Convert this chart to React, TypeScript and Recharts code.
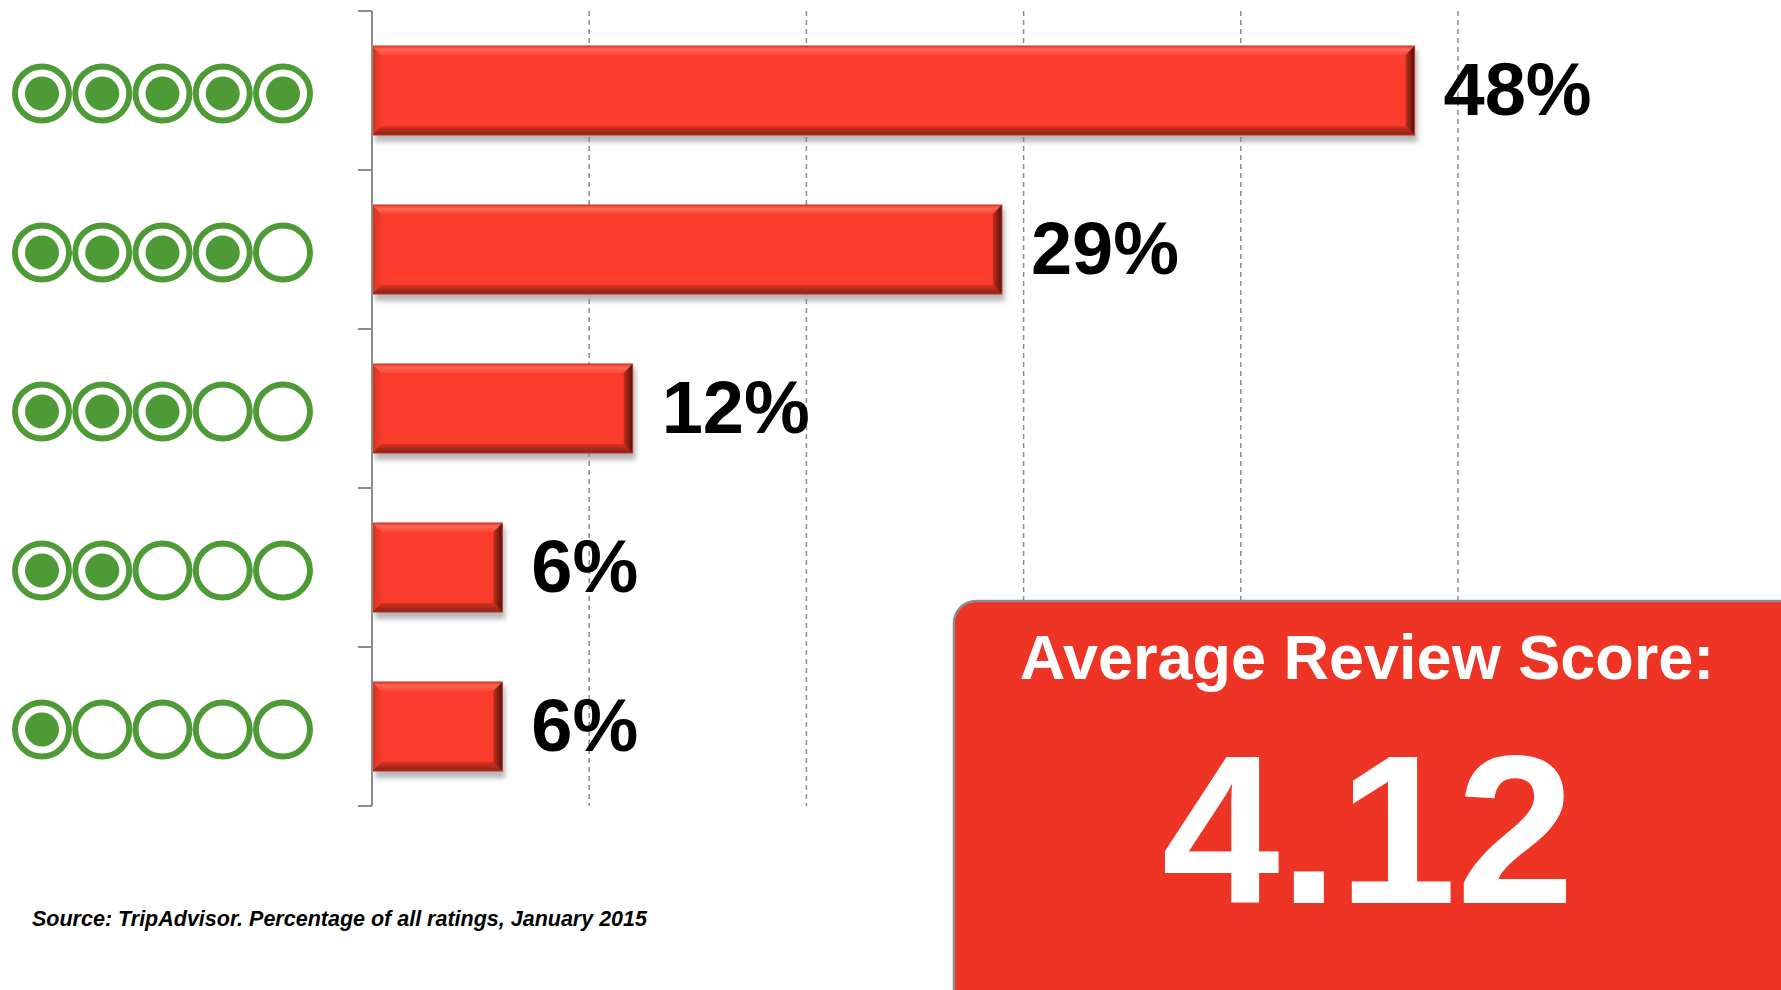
import React from "react";
import { BarChart, Bar, XAxis, YAxis, CartesianGrid, LabelList } from "recharts";

// ratings from 5 bubbles down to 1, share of all reviews in %
const ratings = [5, 4, 3, 2, 1];
const shares = [48, 29, 12, 6, 6];
const xTicks = [0, 10, 20, 30, 40, 50];
const scoreTitle = "Average Review Score:";
const averageScore = "4.12";
const sourceNote = "Source: TripAdvisor. Percentage of all ratings, January 2015";

const data = ratings.map((r, i) => ({ rating: r, share: shares[i] }));

const W = 1781;
const H = 990;
const TOP = 11;
const BOTTOM = 806;
const AXIS_X = 372;
const BAND = (BOTTOM - TOP) / ratings.length;
const GREEN = "#4e9a36";
const AXIS_GREY = "#8c8c8c";
const FONT = '"Liberation Sans", Arial, Helvetica, sans-serif';

function RatingTick(props: any) {
  const { y, payload } = props;
  const filled = Number(payload.value);
  const isLast = payload.value === ratings[ratings.length - 1];
  return (
    <g>
      <line x1={AXIS_X - 14} x2={AXIS_X} y1={y - BAND / 2} y2={y - BAND / 2} stroke={AXIS_GREY} strokeWidth={2} />
      {isLast && (
        <line x1={AXIS_X - 14} x2={AXIS_X} y1={y + BAND / 2} y2={y + BAND / 2} stroke={AXIS_GREY} strokeWidth={2} />
      )}
      {[0, 1, 2, 3, 4].map((k) => (
        <g key={k}>
          <circle cx={42 + k * 60.25} cy={y + 3} r={27} fill="#fff" stroke={GREEN} strokeWidth={6} />
          {k < filled && <circle cx={42 + k * 60.25} cy={y + 3} r={17} fill={GREEN} />}
        </g>
      ))}
    </g>
  );
}

// red bar with a bevelled frame and a soft grey drop shadow
function BevelBar(props: any) {
  const { x, y, width: w, height: h } = props;
  const b = 9;
  const pts = (arr: number[][]) => arr.map((p) => p.join(",")).join(" ");
  return (
    <g>
      <rect x={x + 3} y={y + 4} width={w} height={h + 3} fill="#8a8a8a" opacity={0.6} filter="url(#barShadow)" />
      <rect x={x} y={y} width={w} height={h} fill="#fb3b2b" />
      <polygon points={pts([[x, y], [x + w, y], [x + w - b, y + b], [x + b, y + b]])} fill="url(#bevTop)" />
      <polygon points={pts([[x, y + h], [x + w, y + h], [x + w - b, y + h - b], [x + b, y + h - b]])} fill="url(#bevBottom)" />
      <polygon points={pts([[x, y], [x + b, y + b], [x + b, y + h - b], [x, y + h]])} fill="url(#bevLeft)" />
      <polygon points={pts([[x + w, y], [x + w - b, y + b], [x + w - b, y + h - b], [x + w, y + h]])} fill="url(#bevRight)" />
      <rect x={x} y={y} width={w} height={h} fill="none" stroke="#c9301f" strokeWidth={1} />
    </g>
  );
}

function ShareLabel(props: any) {
  const { x, y, width, height, value } = props;
  return (
    <text
      x={x + width + 29}
      y={y + height / 2 + 24}
      fill="#000"
      fontFamily={FONT}
      fontWeight="bold"
      fontSize={74}
    >
      {value}%
    </text>
  );
}

export default function App() {
  return (
    <div style={{ position: "absolute", left: 0, top: 0, width: W, height: H, background: "#fff" }}>
      <BarChart
        width={W}
        height={H}
        data={data}
        layout="vertical"
        margin={{ top: TOP, right: W - 1458, bottom: H - BOTTOM, left: 0 }}
      >
        <defs>
          <filter id="barShadow" x="-5%" y="-20%" width="110%" height="140%">
            <feGaussianBlur stdDeviation="2.5" />
          </filter>
          <linearGradient id="bevTop" x1="0" y1="0" x2="0" y2="1">
            <stop offset="0%" stopColor="#e8402f" />
            <stop offset="40%" stopColor="#ff6656" />
            <stop offset="100%" stopColor="#fc4535" />
          </linearGradient>
          <linearGradient id="bevBottom" x1="0" y1="0" x2="0" y2="1">
            <stop offset="0%" stopColor="#d8321f" />
            <stop offset="100%" stopColor="#86241a" />
          </linearGradient>
          <linearGradient id="bevLeft" x1="0" y1="0" x2="1" y2="0">
            <stop offset="0%" stopColor="#d23424" />
            <stop offset="100%" stopColor="#f43a2a" />
          </linearGradient>
          <linearGradient id="bevRight" x1="0" y1="0" x2="1" y2="0">
            <stop offset="0%" stopColor="#c82c1d" />
            <stop offset="100%" stopColor="#4e140c" />
          </linearGradient>
        </defs>
        <CartesianGrid horizontal={false} stroke={AXIS_GREY} strokeWidth={1.5} strokeDasharray="5 4" />
        <XAxis type="number" domain={[0, 50]} ticks={xTicks} hide />
        <YAxis
          type="category"
          dataKey="rating"
          width={AXIS_X}
          axisLine={{ stroke: AXIS_GREY, strokeWidth: 2 }}
          tickLine={false}
          interval={0}
          tick={<RatingTick />}
        />
        <Bar dataKey="share" barSize={89} shape={<BevelBar />} isAnimationActive={false}>
          <LabelList dataKey="share" content={<ShareLabel />} />
        </Bar>
      </BarChart>

      <svg
        width={W}
        height={H}
        style={{ position: "absolute", left: 0, top: 0, pointerEvents: "none" }}
      >
        <rect x={954} y={601} width={900} height={500} rx={22} fill="#ee3424" stroke={AXIS_GREY} strokeWidth={2.5} />
        <text x={1367} y={679} textAnchor="middle" fill="#fff" fontFamily={FONT} fontWeight="bold" fontSize={63}>
          {scoreTitle}
        </text>
        <text x={1368} y={903} textAnchor="middle" fill="#fff" fontFamily={FONT} fontWeight="bold" fontSize={212}>
          {averageScore}
        </text>
        <text x={32} y={926} fill="#000" fontFamily={FONT} fontWeight="bold" fontStyle="italic" fontSize={21.5}>
          {sourceNote}
        </text>
      </svg>
    </div>
  );
}
